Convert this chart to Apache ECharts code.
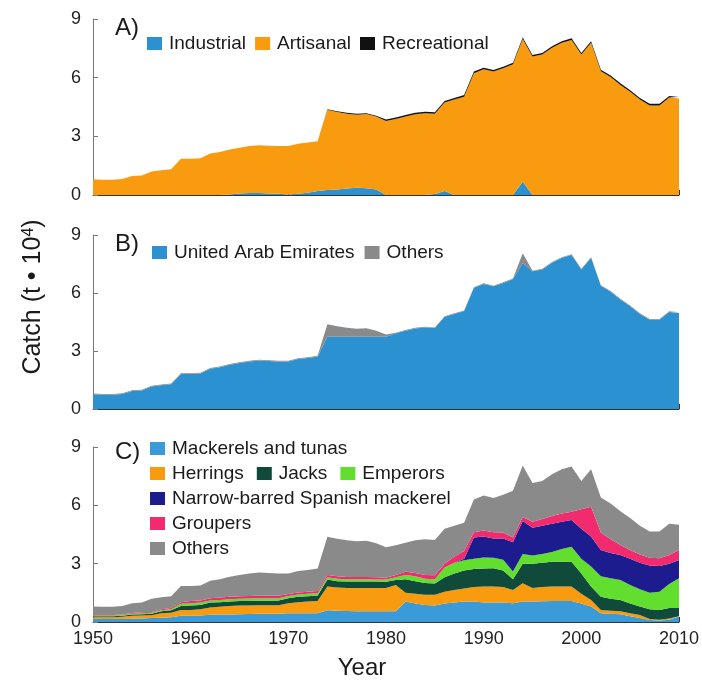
<!DOCTYPE html>
<html>
<head>
<meta charset="utf-8">
<script src="https://cdn.jsdelivr.net/npm/echarts@6/dist/echarts.min.js"></script>
<style>
  html, body { margin: 0; padding: 0; background: #fff; }
  #chart { width: 702px; height: 681px; }
</style>
</head>
<body>
<div id="chart"></div>
<script>
// Years of catch records
const years = ['1950','1951','1952','1953','1954','1955','1956','1957','1958','1959',
  '1960','1961','1962','1963','1964','1965','1966','1967','1968','1969',
  '1970','1971','1972','1973','1974','1975','1976','1977','1978','1979',
  '1980','1981','1982','1983','1984','1985','1986','1987','1988','1989',
  '1990','1991','1992','1993','1994','1995','1996','1997','1998','1999',
  '2000','2001','2002','2003','2004','2005','2006','2007','2008','2009','2010'];

const yTicks = [0, 3, 6, 9];

// A) catch by sector (t x 10^4)
const industrial = [0,0,0,0,0,0,0,0,0,0,
  0,0,0,0,0.03,0.08,0.10,0.10,0.08,0.06,
  0.03,0.06,0.12,0.20,0.25,0.28,0.33,0.37,0.34,0.28,
  0,0,0,0,0,0.05,0.20,0,0,0,
  0,0,0,0,0.68,0,0,0,0,0,
  0,0,0,0,0,0,0,0,0,0,0];
const artisanal = [0.80,0.78,0.78,0.82,0.97,1.00,1.20,1.27,1.32,1.85,
  1.85,1.88,2.12,2.20,2.30,2.34,2.40,2.45,2.44,2.44,
  2.47,2.56,2.56,2.55,4.11,3.96,3.83,3.74,3.80,3.73,
  3.78,3.88,4.01,4.13,4.18,4.10,4.53,4.88,5.03,6.23,
  6.43,6.31,6.48,6.68,7.30,7.08,7.18,7.53,7.78,7.93,
  7.18,7.78,6.33,6.03,5.63,5.28,4.88,4.58,4.58,4.98,4.93];
const recreational = [0,0,0,0,0,0,0,0,0,0,
  0,0,0,0,0,0,0,0,0,0,
  0,0,0,0,0.02,0.04,0.04,0.04,0.04,0.04,
  0.08,0.08,0.08,0.08,0.08,0.08,0.08,0.08,0.08,0.08,
  0.08,0.08,0.08,0.08,0.08,0.08,0.08,0.08,0.08,0.08,
  0.08,0.08,0.08,0.08,0.08,0.08,0.08,0.08,0.08,0.08,0.08];

// B) catch by fishing country
const uae = [0.76,0.74,0.74,0.78,0.93,0.96,1.16,1.23,1.28,1.81,
  1.81,1.84,2.08,2.16,2.29,2.38,2.46,2.51,2.48,2.46,
  2.46,2.58,2.64,2.71,3.74,3.74,3.74,3.74,3.74,3.74,
  3.74,3.92,4.05,4.17,4.22,4.19,4.77,4.92,5.07,6.27,
  6.47,6.35,6.52,6.72,7.55,7.12,7.22,7.57,7.82,7.97,
  7.22,7.82,6.37,6.07,5.67,5.32,4.92,4.62,4.62,5.02,4.97];
const countryOthers = [0.04,0.04,0.04,0.04,0.04,0.04,0.04,0.04,0.04,0.04,
  0.04,0.04,0.04,0.04,0.04,0.04,0.04,0.04,0.04,0.04,
  0.04,0.04,0.04,0.04,0.64,0.54,0.46,0.41,0.44,0.31,
  0.11,0.03,0.03,0.03,0.03,0.03,0.03,0.03,0.03,0.03,
  0.03,0.03,0.03,0.03,0.50,0.03,0.03,0.03,0.03,0.03,
  0.03,0.03,0.03,0.03,0.03,0.03,0.03,0.03,0.03,0.03,0.03];

// C) catch by taxon
const mackerels = [0.15,0.15,0.15,0.16,0.17,0.18,0.20,0.22,0.25,0.32,
  0.33,0.34,0.37,0.38,0.39,0.40,0.41,0.42,0.42,0.42,
  0.45,0.45,0.45,0.45,0.60,0.58,0.56,0.55,0.55,0.55,
  0.55,0.55,1.05,0.95,0.88,0.85,0.95,1.00,1.05,1.05,
  1.00,1.00,1.00,0.96,1.05,1.05,1.07,1.08,1.08,1.08,
  0.95,0.80,0.45,0.42,0.40,0.30,0.20,0.10,0.08,0.12,0.28];
const herrings = [0.10,0.10,0.10,0.11,0.15,0.15,0.15,0.23,0.23,0.30,
  0.29,0.31,0.38,0.40,0.43,0.45,0.44,0.44,0.44,0.44,
  0.51,0.57,0.60,0.63,1.22,1.20,1.19,1.20,1.20,1.20,
  1.20,1.35,0.45,0.50,0.52,0.55,0.60,0.65,0.67,0.75,
  0.82,0.82,0.80,0.69,0.94,0.70,0.73,0.74,0.74,0.74,
  0.50,0.33,0.17,0.16,0.15,0.15,0.16,0.06,0.04,0.06,0.02];
const jacks = [0.05,0.05,0.05,0.05,0.06,0.07,0.07,0.10,0.12,0.20,
  0.23,0.23,0.25,0.24,0.23,0.23,0.23,0.23,0.23,0.24,
  0.26,0.28,0.28,0.28,0.36,0.32,0.33,0.33,0.33,0.33,
  0.32,0.26,0.70,0.65,0.60,0.58,0.75,0.85,0.93,0.92,
  0.93,0.94,0.85,0.55,1.01,1.25,1.25,1.28,1.28,1.28,
  1.05,0.69,0.68,0.62,0.58,0.50,0.44,0.49,0.50,0.54,0.42];
const emperors = [0.03,0.03,0.03,0.04,0.04,0.05,0.05,0.05,0.06,0.12,
  0.12,0.12,0.10,0.11,0.12,0.12,0.13,0.13,0.13,0.12,
  0.12,0.12,0.12,0.12,0.12,0.12,0.12,0.12,0.12,0.11,
  0.11,0.14,0.22,0.25,0.22,0.22,0.50,0.55,0.53,0.53,
  0.57,0.54,0.55,0.40,0.50,0.42,0.45,0.50,0.65,0.77,
  0.75,1.03,1.05,1.05,1.03,0.95,0.88,0.85,0.93,1.23,1.53];
const spanishMackerel = [0,0,0,0,0,0,0,0,0,0,
  0,0,0,0,0,0,0,0,0,0,
  0,0,0,0,0,0,0,0,0,0,
  0,0,0,0,0,0,0,0,0.07,1.10,
  1.08,1.00,1.10,1.50,1.70,1.43,1.45,1.45,1.40,1.38,
  1.55,1.55,1.35,1.30,1.29,1.35,1.37,1.40,1.33,1.05,0.94];
const groupers = [0.03,0.03,0.03,0.03,0.04,0.05,0.05,0.06,0.06,0.08,
  0.11,0.10,0.12,0.13,0.13,0.13,0.13,0.13,0.13,0.13,
  0.10,0.10,0.11,0.12,0.12,0.13,0.12,0.12,0.12,0.11,
  0.10,0.12,0.16,0.17,0.20,0.20,0.20,0.30,0.40,0.27,
  0.30,0.32,0.30,0.25,0.20,0.30,0.35,0.40,0.43,0.42,
  1.00,1.53,0.90,0.70,0.51,0.45,0.42,0.40,0.40,0.45,0.51];
const taxonOthers = [0.44,0.42,0.42,0.43,0.51,0.50,0.68,0.61,0.60,0.83,
  0.77,0.78,0.90,0.94,1.03,1.09,1.16,1.20,1.17,1.15,
  1.06,1.10,1.12,1.15,1.96,1.93,1.88,1.83,1.86,1.75,
  1.57,1.53,1.50,1.68,1.83,1.82,1.80,1.60,1.45,1.68,
  1.80,1.76,1.95,2.40,2.65,2.00,1.95,2.15,2.27,2.33,
  1.45,1.92,1.80,1.85,1.74,1.65,1.48,1.35,1.37,1.60,1.30];

const FONT = '"Liberation Sans", Arial, Helvetica, sans-serif';
const BLUE = '#2b91d0', ORANGE = '#f99b0e', GREY = '#8a8a8a';

const grids = [
  { left: 93, width: 586, top: 19, height: 176 },
  { left: 93, width: 586, top: 235, height: 174 },
  { left: 93, width: 586, top: 447, height: 175 }
];

// Decade ticks on a yearly category axis
function xAxisFor(i) {
  return {
    type: 'category', gridIndex: i, data: years, boundaryGap: false,
    axisLine: { show: true, lineStyle: { color: '#333', width: 1 } },
    axisTick: { show: true, inside: true, length: 5, interval: 9, lineStyle: { color: '#333' } },
    axisLabel: { show: i === 2, interval: 9, color: '#222', fontSize: 18, fontFamily: FONT, margin: 8 },
    splitLine: { show: false }
  };
}
function yAxisFor(i) {
  return {
    type: 'value', gridIndex: i, min: yTicks[0], max: yTicks[yTicks.length - 1], interval: 3,
    axisLine: { show: true, lineStyle: { color: '#777', width: 1 } },
    axisTick: { show: true, inside: true, length: 5, lineStyle: { color: '#777' } },
    axisLabel: { color: '#222', fontSize: 18, fontFamily: FONT, margin: 12 },
    splitLine: { show: false }
  };
}

function area(name, values, color, gridIdx, stack) {
  return {
    name, type: 'line', stack, xAxisIndex: gridIdx, yAxisIndex: gridIdx,
    data: values,
    color, showSymbol: false, symbol: 'none', smooth: false,
    lineStyle: { width: 0 },
    areaStyle: { color, opacity: 1 },
    emphasis: { disabled: true }, silent: true
  };
}

const series = [
  area('Industrial', industrial, BLUE, 0, 'sector'),
  area('Artisanal', artisanal, ORANGE, 0, 'sector'),
  area('Recreational', recreational, '#111111', 0, 'sector'),
  area('United Arab Emirates', uae, BLUE, 1, 'country'),
  area('Others', countryOthers, GREY, 1, 'country'),
  area('Mackerels and tunas', mackerels, '#3a9bd8', 2, 'taxon'),
  area('Herrings', herrings, ORANGE, 2, 'taxon'),
  area('Jacks', jacks, '#0f4a3b', 2, 'taxon'),
  area('Emperors', emperors, '#62de2e', 2, 'taxon'),
  area('Narrow-barred Spanish mackerel', spanishMackerel, '#1d1c8e', 2, 'taxon'),
  area('Groupers', groupers, '#f22b6e', 2, 'taxon'),
  area('Others', taxonOthers, GREY, 2, 'taxon')
];

function legend(names, left, top, gap) {
  return {
    data: names, left, top, orient: 'horizontal', padding: 0,
    itemGap: gap, itemWidth: 15, itemHeight: 13, icon: 'rect',
    selectedMode: false,
    textStyle: { fontSize: 19, fontFamily: FONT, color: '#1a1a1a', padding: [0, 0, 0, 2] }
  };
}

const chart = echarts.init(document.getElementById('chart'), null, { renderer: 'canvas' });
chart.setOption({
  backgroundColor: '#ffffff',
  animation: false,
  textStyle: { fontFamily: FONT },
  grid: grids,
  xAxis: [xAxisFor(0), xAxisFor(1), xAxisFor(2)],
  yAxis: [yAxisFor(0), yAxisFor(1), yAxisFor(2)],
  legend: [
    legend(['Industrial', 'Artisanal', 'Recreational'], 147, 34, 9),
    legend(['United Arab Emirates', 'Others'], 152, 243, 10),
    legend(['Mackerels and tunas'], 150, 439, 10),
    legend(['Herrings', 'Jacks', 'Emperors'], 150, 464, 13),
    legend(['Narrow-barred Spanish mackerel'], 150, 489, 10),
    legend(['Groupers'], 150, 514, 10),
    legend(['Others'], 150, 539, 10)
  ],
  graphic: [
    { type: 'text', x: 115, y: 16, style: { text: 'A)', font: '24px ' + FONT, fill: '#1a1a1a' } },
    { type: 'text', x: 115, y: 232, style: { text: 'B)', font: '24px ' + FONT, fill: '#1a1a1a' } },
    { type: 'text', x: 115, y: 440, style: { text: 'C)', font: '24px ' + FONT, fill: '#1a1a1a' } },
    {
      type: 'text', x: 362, y: 668,
      style: { text: 'Year', font: '24px ' + FONT, fill: '#1a1a1a', align: 'center', verticalAlign: 'middle' }
    },
    {
      type: 'text', x: 33, y: 297, rotation: Math.PI / 2,
      style: {
        text: '{a|Catch (t • 10}{s|4}{a|)}',
        align: 'center', verticalAlign: 'middle',
        rich: {
          a: { fontSize: 25, fontFamily: FONT, fill: '#1a1a1a', color: '#1a1a1a' },
          s: { fontSize: 16, fontFamily: FONT, fill: '#1a1a1a', color: '#1a1a1a', verticalAlign: 'top' }
        }
      }
    }
  ],
  series
});
</script>
</body>
</html>
